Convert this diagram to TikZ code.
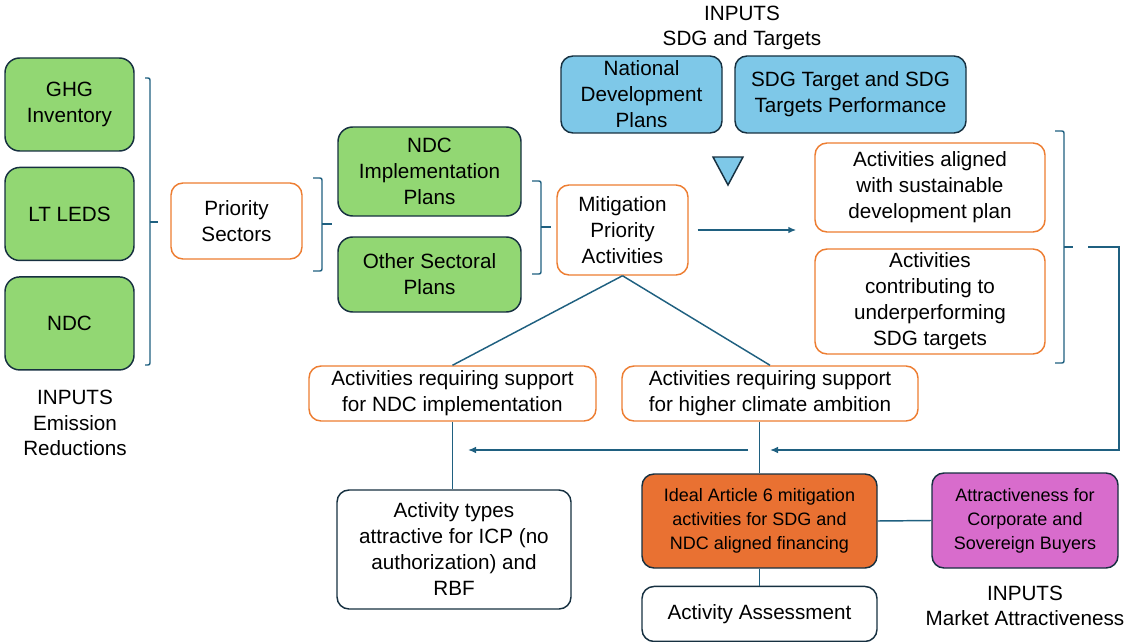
\documentclass[tikz,border=0pt]{standalone}
\usepackage{fontspec}
\setmainfont{Liberation Sans}
\usetikzlibrary{arrows.meta, positioning}
\definecolor{boxgreen}{RGB}{146,215,115}
\definecolor{boxblue}{RGB}{126,200,232}
\definecolor{boxorange}{RGB}{233,113,50}
\definecolor{boxpink}{RGB}{216,108,204}
\definecolor{edgedark}{RGB}{22,48,64}
\definecolor{edgeorange}{RGB}{237,125,49}
\definecolor{linkblue}{RGB}{31,96,128}
\tikzset{
    greenbox/.style={rectangle, rounded corners=11pt, draw=edgedark, line width=1.1pt, fill=boxgreen, align=center, font=\fontsize{15.5}{19.5}\selectfont, inner sep=2pt},
    bluebox/.style={rectangle, rounded corners=9pt, draw=edgedark, line width=1.1pt, fill=boxblue, align=center, font=\fontsize{15.5}{19.5}\selectfont, inner sep=2pt},
    orangeline/.style={rectangle, rounded corners=9pt, draw=edgeorange, line width=1.1pt, fill=white, align=center, font=\fontsize{15.5}{19.5}\selectfont, inner sep=2pt},
    plainbox/.style={rectangle, rounded corners=9pt, draw=edgedark, line width=1.1pt, fill=white, align=center, font=\fontsize{15.5}{19.5}\selectfont, inner sep=2pt},
    smallbox/.style={rectangle, rounded corners=9pt, draw=edgedark, line width=1.1pt, align=center, font=\fontsize{13.5}{18}\selectfont, inner sep=2pt},
    label/.style={align=center, font=\fontsize{15.5}{19}\selectfont, inner sep=0pt},
    line/.style={draw=linkblue, line width=1.1pt},
    bracket/.style={draw=linkblue, line width=1.1pt, rounded corners=1.5pt},
    arrow/.style={draw=linkblue, line width=1.1pt, -{Latex[length=6pt, width=5pt]}},
    marker/.style={draw=edgedark, line width=1.1pt, fill=boxblue}
}

\begin{document}
\begin{tikzpicture}[x=0.75pt, y=-0.75pt]
    \useasboundingbox (0,0) rectangle (1129,642);

    % Emission inputs (left column)
    \node[greenbox, minimum width=96.75pt, minimum height=69.75pt] (ghg) at (69.5,104.5) {GHG\\Inventory};
    \node[greenbox, minimum width=96.75pt, minimum height=69.75pt, below=11.25pt of ghg] (leds) {LT LEDS};
    \node[greenbox, minimum width=96.75pt, minimum height=69.75pt, below=11.25pt of leds] (ndc) {NDC};
    \node[label] (emission_label) at (75,423) {INPUTS\\Emission\\Reductions};

    % Priority sectors
    \node[orangeline, minimum width=98.25pt, minimum height=57pt] (sectors) at (236.5,221) {Priority\\Sectors};

    % Plans
    \node[greenbox, minimum width=137.25pt, minimum height=66.75pt] (impl_plans) at (429.5,171.5) {NDC\\Implementation\\Plans};
    \node[greenbox, minimum width=137.25pt, minimum height=56.25pt] (sector_plans) at (429.5,274.5) {Other Sectoral\\Plans};

    % Mitigation priority activities
    \node[orangeline, minimum width=98.25pt, minimum height=67.5pt] (mitigation) at (622.5,230) {Mitigation\\Priority\\Activities};

    % SDG inputs (top)
    \node[label] (sdg_label) at (742,28) {INPUTS\\SDG and Targets};
    \node[bluebox, minimum width=120.75pt, minimum height=57.75pt] (dev_plans) at (641.5,94.5) {National\\Development\\Plans};
    \node[bluebox, minimum width=173.25pt, minimum height=57.75pt] (sdg_perf) at (850.5,94.5) {SDG Target and SDG\\Targets Performance};
    \coordinate (tri) at (728,185);
    \draw[marker] (713,157) -- (743,157) -- (tri) -- cycle;

    % SDG filtered activities (right)
    \node[orangeline, minimum width=172.5pt, minimum height=66.75pt] (aligned) at (930,187.5) {Activities aligned\\with sustainable\\development plan};
    \node[orangeline, minimum width=172.5pt, minimum height=78.75pt] (underperf) at (930,301.5) {Activities\\contributing to\\underperforming\\SDG targets};

    % Support needs
    \node[orangeline, minimum width=215.25pt, minimum height=41.25pt] (ndc_support) at (452.5,393.5) {Activities requiring support\\for NDC implementation};
    \node[orangeline, minimum width=222pt, minimum height=41.25pt] (ambition) at (770,393.5) {Activities requiring support\\for higher climate ambition};

    % Outcomes (bottom)
    \node[plainbox, minimum width=175.5pt, minimum height=89.25pt] (icp_types) at (454,549.5) {Activity types\\attractive for ICP (no\\authorization) and\\RBF};
    \node[smallbox, fill=boxorange, minimum width=176.25pt, minimum height=70.5pt] (ideal) at (759.5,521) {Ideal Article 6 mitigation\\activities for SDG and\\NDC aligned financing};
    \node[smallbox, fill=boxpink, minimum width=139.5pt, minimum height=71.25pt] (buyers) at (1025,520.5) {Attractiveness for\\Corporate and\\Sovereign Buyers};
    \node[plainbox, minimum width=176.25pt, minimum height=41.25pt, below=12.75pt of ideal] (assessment) {Activity Assessment};
    \node[label] (market_label) at (1025,606) {INPUTS\\Market Attractiveness};

    % Brackets
    \draw[bracket] (145,78) -- (150,78) -- (150,365) -- (145,365);
    \draw[bracket] (150,222) -- (158,222);
    \draw[bracket] (313,178) -- (322,178) -- (322,271) -- (313,271);
    \draw[bracket] (322,224) -- (332,224);
    \draw[bracket] (532,181) -- (541,181) -- (541,274) -- (532,274);
    \draw[bracket] (541,227) -- (551,227);
    \draw[bracket] (1055,131) -- (1064,131) -- (1064,363) -- (1055,363);
    \draw[bracket] (1064,247) -- (1073,247);

    % Lines
    \draw[arrow, shorten <=6.75pt, shorten >=13.5pt] (mitigation.east) -- (mitigation.east -| aligned.west);
    \draw[line] (mitigation.south) -- (ndc_support.north);
    \draw[line] (mitigation.south) -- (ambition.north);
    \draw[line] (ndc_support.south) -- (ndc_support.south |- icp_types.north);
    \draw[line] (ideal.north |- ambition.south) -- (ideal.north);
    \draw[line] (ideal.east) -- (buyers.west);
    \draw[line] (ideal.south) -- (assessment.north);
    \coordinate (ret_start) at (1088,247);
    \coordinate (ret_end) at (770,450);
    \draw[arrow] (ret_start) -- (1119,247) -- (1119,450) -- (ret_end);
    \coordinate (left_start) at (748,450);
    \coordinate (left_end) at (468,450);
    \draw[arrow] (left_start) -- (left_end);
\end{tikzpicture}
\end{document}
